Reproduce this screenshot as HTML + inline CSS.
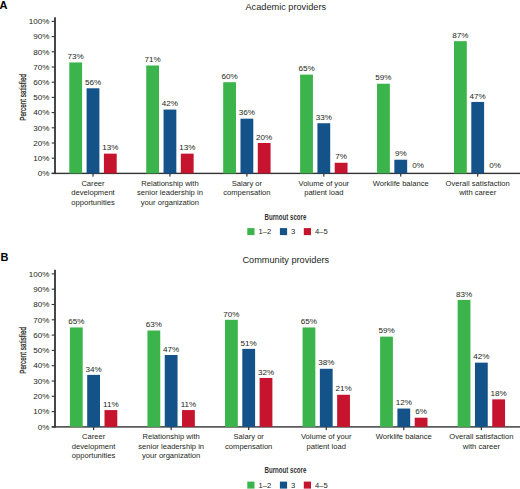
<!DOCTYPE html>
<html><head><meta charset="utf-8"><style>
html,body{margin:0;padding:0;background:#fff;}
body{width:520px;height:489px;overflow:hidden;}
svg{display:block;font-family:"Liberation Sans",sans-serif;}
</style></head><body>
<svg width="520" height="489" viewBox="0 0 520 489">
<rect width="520" height="489" fill="#fff"/>
<text x="-0.4" y="9.40" font-weight="bold" font-size="11" fill="#000">A</text>
<text x="285.8" y="9.50" text-anchor="middle" font-size="9.2" fill="#231f20">Academic providers</text>
<text transform="translate(26.2 97.40) rotate(-90) scale(0.72 1)" text-anchor="middle" font-size="8.8" fill="#231f20" stroke="#231f20" stroke-width="0.25">Percent satisfied</text>
<rect x="54.1" y="17.30" width="1.8" height="156.75" fill="#333"/>
<rect x="51.7" y="172.70" width="469" height="1.4" fill="#333"/>
<rect x="51.7" y="172.85" width="3" height="1.1" fill="#333"/>
<text x="49.4" y="176.15" text-anchor="end" font-size="8.1" fill="#231f20">0%</text>
<rect x="51.7" y="157.65" width="3" height="1.1" fill="#333"/>
<text x="49.4" y="160.95" text-anchor="end" font-size="8.1" fill="#231f20">10%</text>
<rect x="51.7" y="142.45" width="3" height="1.1" fill="#333"/>
<text x="49.4" y="145.75" text-anchor="end" font-size="8.1" fill="#231f20">20%</text>
<rect x="51.7" y="127.25" width="3" height="1.1" fill="#333"/>
<text x="49.4" y="130.55" text-anchor="end" font-size="8.1" fill="#231f20">30%</text>
<rect x="51.7" y="112.05" width="3" height="1.1" fill="#333"/>
<text x="49.4" y="115.35" text-anchor="end" font-size="8.1" fill="#231f20">40%</text>
<rect x="51.7" y="96.85" width="3" height="1.1" fill="#333"/>
<text x="49.4" y="100.15" text-anchor="end" font-size="8.1" fill="#231f20">50%</text>
<rect x="51.7" y="81.65" width="3" height="1.1" fill="#333"/>
<text x="49.4" y="84.95" text-anchor="end" font-size="8.1" fill="#231f20">60%</text>
<rect x="51.7" y="66.45" width="3" height="1.1" fill="#333"/>
<text x="49.4" y="69.75" text-anchor="end" font-size="8.1" fill="#231f20">70%</text>
<rect x="51.7" y="51.25" width="3" height="1.1" fill="#333"/>
<text x="49.4" y="54.55" text-anchor="end" font-size="8.1" fill="#231f20">80%</text>
<rect x="51.7" y="36.05" width="3" height="1.1" fill="#333"/>
<text x="49.4" y="39.35" text-anchor="end" font-size="8.1" fill="#231f20">90%</text>
<rect x="51.7" y="20.85" width="3" height="1.1" fill="#333"/>
<text x="49.4" y="24.15" text-anchor="end" font-size="8.1" fill="#231f20">100%</text>
<rect x="92.40" y="173.40" width="1.2" height="3.2" fill="#333"/>
<rect x="69.30" y="62.44" width="12.8" height="110.96" fill="#3bb54b"/>
<text x="75.70" y="59.14" text-anchor="middle" font-size="8.1" fill="#231f20">73%</text>
<rect x="86.60" y="88.28" width="12.8" height="85.12" fill="#14528a"/>
<text x="93.00" y="84.98" text-anchor="middle" font-size="8.1" fill="#231f20">56%</text>
<rect x="103.90" y="153.64" width="12.8" height="19.76" fill="#c6142e"/>
<text x="110.30" y="150.34" text-anchor="middle" font-size="8.1" fill="#231f20">13%</text>
<text x="93.00" y="185.60" text-anchor="middle" font-size="7.6" fill="#231f20">Career</text>
<text x="93.00" y="195.15" text-anchor="middle" font-size="7.6" fill="#231f20">development</text>
<text x="93.00" y="204.70" text-anchor="middle" font-size="7.6" fill="#231f20">opportunities</text>
<rect x="169.34" y="173.40" width="1.2" height="3.2" fill="#333"/>
<rect x="146.24" y="65.48" width="12.8" height="107.92" fill="#3bb54b"/>
<text x="152.64" y="62.18" text-anchor="middle" font-size="8.1" fill="#231f20">71%</text>
<rect x="163.54" y="109.56" width="12.8" height="63.84" fill="#14528a"/>
<text x="169.94" y="106.26" text-anchor="middle" font-size="8.1" fill="#231f20">42%</text>
<rect x="180.84" y="153.64" width="12.8" height="19.76" fill="#c6142e"/>
<text x="187.24" y="150.34" text-anchor="middle" font-size="8.1" fill="#231f20">13%</text>
<text x="169.94" y="185.60" text-anchor="middle" font-size="7.6" fill="#231f20">Relationship with</text>
<text x="169.94" y="195.15" text-anchor="middle" font-size="7.6" fill="#231f20">senior leadership in</text>
<text x="169.94" y="204.70" text-anchor="middle" font-size="7.6" fill="#231f20">your organization</text>
<rect x="246.28" y="173.40" width="1.2" height="3.2" fill="#333"/>
<rect x="223.18" y="82.20" width="12.8" height="91.20" fill="#3bb54b"/>
<text x="229.58" y="78.90" text-anchor="middle" font-size="8.1" fill="#231f20">60%</text>
<rect x="240.48" y="118.68" width="12.8" height="54.72" fill="#14528a"/>
<text x="246.88" y="115.38" text-anchor="middle" font-size="8.1" fill="#231f20">36%</text>
<rect x="257.78" y="143.00" width="12.8" height="30.40" fill="#c6142e"/>
<text x="264.18" y="139.70" text-anchor="middle" font-size="8.1" fill="#231f20">20%</text>
<text x="246.88" y="185.60" text-anchor="middle" font-size="7.6" fill="#231f20">Salary or</text>
<text x="246.88" y="195.15" text-anchor="middle" font-size="7.6" fill="#231f20">compensation</text>
<rect x="323.22" y="173.40" width="1.2" height="3.2" fill="#333"/>
<rect x="300.12" y="74.60" width="12.8" height="98.80" fill="#3bb54b"/>
<text x="306.52" y="71.30" text-anchor="middle" font-size="8.1" fill="#231f20">65%</text>
<rect x="317.42" y="123.24" width="12.8" height="50.16" fill="#14528a"/>
<text x="323.82" y="119.94" text-anchor="middle" font-size="8.1" fill="#231f20">33%</text>
<rect x="334.72" y="162.76" width="12.8" height="10.64" fill="#c6142e"/>
<text x="341.12" y="159.46" text-anchor="middle" font-size="8.1" fill="#231f20">7%</text>
<text x="323.82" y="185.60" text-anchor="middle" font-size="7.6" fill="#231f20">Volume of your</text>
<text x="323.82" y="195.15" text-anchor="middle" font-size="7.6" fill="#231f20">patient load</text>
<rect x="400.16" y="173.40" width="1.2" height="3.2" fill="#333"/>
<rect x="377.06" y="83.72" width="12.8" height="89.68" fill="#3bb54b"/>
<text x="383.46" y="80.42" text-anchor="middle" font-size="8.1" fill="#231f20">59%</text>
<rect x="394.36" y="159.72" width="12.8" height="13.68" fill="#14528a"/>
<text x="400.76" y="156.42" text-anchor="middle" font-size="8.1" fill="#231f20">9%</text>
<text x="418.06" y="168.00" text-anchor="middle" font-size="8.1" fill="#231f20">0%</text>
<text x="400.76" y="185.60" text-anchor="middle" font-size="7.6" fill="#231f20">Worklife balance</text>
<rect x="477.10" y="173.40" width="1.2" height="3.2" fill="#333"/>
<rect x="454.00" y="41.16" width="12.8" height="132.24" fill="#3bb54b"/>
<text x="460.40" y="37.86" text-anchor="middle" font-size="8.1" fill="#231f20">87%</text>
<rect x="471.30" y="101.96" width="12.8" height="71.44" fill="#14528a"/>
<text x="477.70" y="98.66" text-anchor="middle" font-size="8.1" fill="#231f20">47%</text>
<text x="495.00" y="168.00" text-anchor="middle" font-size="8.1" fill="#231f20">0%</text>
<text x="477.70" y="185.60" text-anchor="middle" font-size="7.6" fill="#231f20">Overall satisfaction</text>
<text x="477.70" y="195.15" text-anchor="middle" font-size="7.6" fill="#231f20">with career</text>
<text transform="translate(285.4 219.60) scale(0.66 1)" text-anchor="middle" font-size="9.3" font-weight="bold" fill="#333">Burnout score</text>
<rect x="247.3" y="228.10" width="7.2" height="7" fill="#3bb54b"/>
<text x="258.50" y="234.30" font-size="7.6" fill="#231f20">1–2</text>
<rect x="279.9" y="228.10" width="7.2" height="7" fill="#14528a"/>
<text x="291.10" y="234.30" font-size="7.6" fill="#231f20">3</text>
<rect x="303.8" y="228.10" width="7.2" height="7" fill="#c6142e"/>
<text x="315.00" y="234.30" font-size="7.6" fill="#231f20">4–5</text>
<text x="0.6" y="261.40" font-weight="bold" font-size="11" fill="#000">B</text>
<text x="285.8" y="262.50" text-anchor="middle" font-size="9.2" fill="#231f20">Community providers</text>
<text transform="translate(26.2 350.40) rotate(-90) scale(0.72 1)" text-anchor="middle" font-size="8.8" fill="#231f20" stroke="#231f20" stroke-width="0.25">Percent satisfied</text>
<rect x="54.1" y="269.80" width="1.8" height="157.75" fill="#333"/>
<rect x="51.7" y="426.20" width="469" height="1.4" fill="#333"/>
<rect x="51.7" y="426.35" width="3" height="1.1" fill="#333"/>
<text x="49.4" y="429.65" text-anchor="end" font-size="8.1" fill="#231f20">0%</text>
<rect x="51.7" y="411.05" width="3" height="1.1" fill="#333"/>
<text x="49.4" y="414.35" text-anchor="end" font-size="8.1" fill="#231f20">10%</text>
<rect x="51.7" y="395.75" width="3" height="1.1" fill="#333"/>
<text x="49.4" y="399.05" text-anchor="end" font-size="8.1" fill="#231f20">20%</text>
<rect x="51.7" y="380.45" width="3" height="1.1" fill="#333"/>
<text x="49.4" y="383.75" text-anchor="end" font-size="8.1" fill="#231f20">30%</text>
<rect x="51.7" y="365.15" width="3" height="1.1" fill="#333"/>
<text x="49.4" y="368.45" text-anchor="end" font-size="8.1" fill="#231f20">40%</text>
<rect x="51.7" y="349.85" width="3" height="1.1" fill="#333"/>
<text x="49.4" y="353.15" text-anchor="end" font-size="8.1" fill="#231f20">50%</text>
<rect x="51.7" y="334.55" width="3" height="1.1" fill="#333"/>
<text x="49.4" y="337.85" text-anchor="end" font-size="8.1" fill="#231f20">60%</text>
<rect x="51.7" y="319.25" width="3" height="1.1" fill="#333"/>
<text x="49.4" y="322.55" text-anchor="end" font-size="8.1" fill="#231f20">70%</text>
<rect x="51.7" y="303.95" width="3" height="1.1" fill="#333"/>
<text x="49.4" y="307.25" text-anchor="end" font-size="8.1" fill="#231f20">80%</text>
<rect x="51.7" y="288.65" width="3" height="1.1" fill="#333"/>
<text x="49.4" y="291.95" text-anchor="end" font-size="8.1" fill="#231f20">90%</text>
<rect x="51.7" y="273.35" width="3" height="1.1" fill="#333"/>
<text x="49.4" y="276.65" text-anchor="end" font-size="8.1" fill="#231f20">100%</text>
<rect x="93.00" y="426.90" width="1.2" height="3.2" fill="#333"/>
<rect x="69.90" y="327.45" width="12.8" height="99.45" fill="#3bb54b"/>
<text x="76.30" y="324.15" text-anchor="middle" font-size="8.1" fill="#231f20">65%</text>
<rect x="87.20" y="374.88" width="12.8" height="52.02" fill="#14528a"/>
<text x="93.60" y="371.58" text-anchor="middle" font-size="8.1" fill="#231f20">34%</text>
<rect x="104.50" y="410.07" width="12.8" height="16.83" fill="#c6142e"/>
<text x="110.90" y="406.77" text-anchor="middle" font-size="8.1" fill="#231f20">11%</text>
<text x="93.60" y="439.10" text-anchor="middle" font-size="7.6" fill="#231f20">Career</text>
<text x="93.60" y="448.65" text-anchor="middle" font-size="7.6" fill="#231f20">development</text>
<text x="93.60" y="458.20" text-anchor="middle" font-size="7.6" fill="#231f20">opportunities</text>
<rect x="170.55" y="426.90" width="1.2" height="3.2" fill="#333"/>
<rect x="147.45" y="330.51" width="12.8" height="96.39" fill="#3bb54b"/>
<text x="153.85" y="327.21" text-anchor="middle" font-size="8.1" fill="#231f20">63%</text>
<rect x="164.75" y="354.99" width="12.8" height="71.91" fill="#14528a"/>
<text x="171.15" y="351.69" text-anchor="middle" font-size="8.1" fill="#231f20">47%</text>
<rect x="182.05" y="410.07" width="12.8" height="16.83" fill="#c6142e"/>
<text x="188.45" y="406.77" text-anchor="middle" font-size="8.1" fill="#231f20">11%</text>
<text x="171.15" y="439.10" text-anchor="middle" font-size="7.6" fill="#231f20">Relationship with</text>
<text x="171.15" y="448.65" text-anchor="middle" font-size="7.6" fill="#231f20">senior leadership in</text>
<text x="171.15" y="458.20" text-anchor="middle" font-size="7.6" fill="#231f20">your organization</text>
<rect x="248.10" y="426.90" width="1.2" height="3.2" fill="#333"/>
<rect x="225.00" y="319.80" width="12.8" height="107.10" fill="#3bb54b"/>
<text x="231.40" y="316.50" text-anchor="middle" font-size="8.1" fill="#231f20">70%</text>
<rect x="242.30" y="348.87" width="12.8" height="78.03" fill="#14528a"/>
<text x="248.70" y="345.57" text-anchor="middle" font-size="8.1" fill="#231f20">51%</text>
<rect x="259.60" y="377.94" width="12.8" height="48.96" fill="#c6142e"/>
<text x="266.00" y="374.64" text-anchor="middle" font-size="8.1" fill="#231f20">32%</text>
<text x="248.70" y="439.10" text-anchor="middle" font-size="7.6" fill="#231f20">Salary or</text>
<text x="248.70" y="448.65" text-anchor="middle" font-size="7.6" fill="#231f20">compensation</text>
<rect x="325.65" y="426.90" width="1.2" height="3.2" fill="#333"/>
<rect x="302.55" y="327.45" width="12.8" height="99.45" fill="#3bb54b"/>
<text x="308.95" y="324.15" text-anchor="middle" font-size="8.1" fill="#231f20">65%</text>
<rect x="319.85" y="368.76" width="12.8" height="58.14" fill="#14528a"/>
<text x="326.25" y="365.46" text-anchor="middle" font-size="8.1" fill="#231f20">38%</text>
<rect x="337.15" y="394.77" width="12.8" height="32.13" fill="#c6142e"/>
<text x="343.55" y="391.47" text-anchor="middle" font-size="8.1" fill="#231f20">21%</text>
<text x="326.25" y="439.10" text-anchor="middle" font-size="7.6" fill="#231f20">Volume of your</text>
<text x="326.25" y="448.65" text-anchor="middle" font-size="7.6" fill="#231f20">patient load</text>
<rect x="403.20" y="426.90" width="1.2" height="3.2" fill="#333"/>
<rect x="380.10" y="336.63" width="12.8" height="90.27" fill="#3bb54b"/>
<text x="386.50" y="333.33" text-anchor="middle" font-size="8.1" fill="#231f20">59%</text>
<rect x="397.40" y="408.54" width="12.8" height="18.36" fill="#14528a"/>
<text x="403.80" y="405.24" text-anchor="middle" font-size="8.1" fill="#231f20">12%</text>
<rect x="414.70" y="417.72" width="12.8" height="9.18" fill="#c6142e"/>
<text x="421.10" y="414.42" text-anchor="middle" font-size="8.1" fill="#231f20">6%</text>
<text x="403.80" y="439.10" text-anchor="middle" font-size="7.6" fill="#231f20">Worklife balance</text>
<rect x="480.75" y="426.90" width="1.2" height="3.2" fill="#333"/>
<rect x="457.65" y="299.91" width="12.8" height="126.99" fill="#3bb54b"/>
<text x="464.05" y="296.61" text-anchor="middle" font-size="8.1" fill="#231f20">83%</text>
<rect x="474.95" y="362.64" width="12.8" height="64.26" fill="#14528a"/>
<text x="481.35" y="359.34" text-anchor="middle" font-size="8.1" fill="#231f20">42%</text>
<rect x="492.25" y="399.36" width="12.8" height="27.54" fill="#c6142e"/>
<text x="498.65" y="396.06" text-anchor="middle" font-size="8.1" fill="#231f20">18%</text>
<text x="481.35" y="439.10" text-anchor="middle" font-size="7.6" fill="#231f20">Overall satisfaction</text>
<text x="481.35" y="448.65" text-anchor="middle" font-size="7.6" fill="#231f20">with career</text>
<text transform="translate(285.4 473.10) scale(0.66 1)" text-anchor="middle" font-size="9.3" font-weight="bold" fill="#333">Burnout score</text>
<rect x="247.3" y="481.60" width="7.2" height="7" fill="#3bb54b"/>
<text x="258.50" y="487.80" font-size="7.6" fill="#231f20">1–2</text>
<rect x="279.9" y="481.60" width="7.2" height="7" fill="#14528a"/>
<text x="291.10" y="487.80" font-size="7.6" fill="#231f20">3</text>
<rect x="303.8" y="481.60" width="7.2" height="7" fill="#c6142e"/>
<text x="315.00" y="487.80" font-size="7.6" fill="#231f20">4–5</text>
</svg>
</body></html>
